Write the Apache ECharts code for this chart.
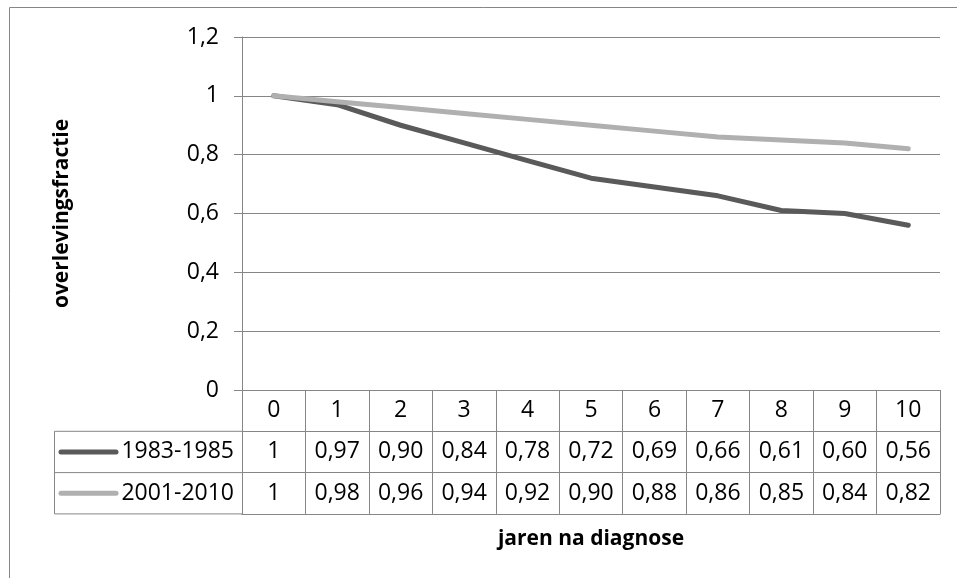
<!DOCTYPE html>
<html>
<head>
<meta charset="utf-8">
<script src="https://cdn.jsdelivr.net/npm/echarts@6/dist/echarts.min.js"></script>
<style>html,body{margin:0;padding:0;background:#fff;}#c{width:957px;height:578px;}</style>
</head>
<body>
<div id="c"></div>
<script>
// ---- data ----
var categories = ['0','1','2','3','4','5','6','7','8','9','10'];
var seriesNames = ['1983-1985', '2001-2010'];
var s1983 = [1, 0.97, 0.90, 0.84, 0.78, 0.72, 0.69, 0.66, 0.61, 0.60, 0.56];
var s2001 = [1, 0.98, 0.96, 0.94, 0.92, 0.90, 0.88, 0.86, 0.85, 0.84, 0.82];
var yTicks = { min: 0, max: 1.2, interval: 0.2 };
var yTitle = 'overlevingsfractie';
var xTitle = 'jaren na diagnose';

// ---- layout / style ----
var FONT = 'Open Sans';
var GRID = { left: 242, top: 37, right: 17, bottom: 188 };
var W = 957, H = 578;
var ROW = 41.3;
var GRAY = '#868686';
var COLORS = ['#5a5a5a', '#b0b0b0'];
var FS = 23;
var TFS = 21;

function fmtVal(v) { return v === 1 ? '1' : v.toFixed(2).replace('.', ','); }
function fmtY(v) { return String(Math.round(v * 10) / 10).replace('.', ','); }

var chart = echarts.init(document.getElementById('c'), null, { renderer: 'canvas' });
var axisBottomY = H - GRID.bottom;

function rowAxis(offset, rowData, extra) {
  var ax = {
    type: 'category', data: categories, gridIndex: 0, position: 'bottom',
    offset: offset, boundaryGap: true, silent: true,
    axisLine: { show: true, lineStyle: { color: GRAY, width: 1 } },
    axisTick: { show: false },
    axisLabel: {
      show: !!rowData, interval: 0, margin: ROW / 2, verticalAlign: 'middle',
      fontFamily: FONT, fontSize: FS, color: '#000',
      formatter: function (val, idx) { return rowData ? fmtVal(rowData[idx]) : ''; }
    },
    splitLine: { show: false }
  };
  if (extra) Object.assign(ax, extra);
  return ax;
}

var option = {
  animation: false,
  backgroundColor: '#fff',
  grid: { left: GRID.left, top: GRID.top, right: GRID.right, bottom: GRID.bottom, containLabel: false },
  xAxis: [
    {
      type: 'category', data: categories, boundaryGap: true, position: 'bottom', silent: true,
      axisLine: { show: true, lineStyle: { color: GRAY, width: 1 } },
      axisTick: { show: true, interval: 0, length: ROW * 3, lineStyle: { color: GRAY, width: 1 } },
      axisLabel: { interval: 0, margin: ROW / 2, verticalAlign: 'middle', fontFamily: FONT, fontSize: FS, color: '#000' },
      splitLine: { show: false }
    },
    rowAxis(ROW, s1983),
    rowAxis(ROW * 2, s2001),
    rowAxis(ROW * 3, null, {
      name: xTitle, nameLocation: 'middle', nameGap: 15,
      nameTextStyle: { fontFamily: FONT, fontSize: TFS, fontWeight: 'bold', color: '#000' }
    })
  ],
  yAxis: {
    type: 'value', min: yTicks.min, max: yTicks.max, interval: yTicks.interval,
    name: yTitle, nameLocation: 'middle', nameGap: 169, nameRotate: 90,
    nameTextStyle: { fontFamily: FONT, fontSize: TFS, fontWeight: 'bold', color: '#000' },
    axisLine: { show: true, lineStyle: { color: GRAY, width: 1 } },
    axisTick: { show: true, length: 8, lineStyle: { color: GRAY, width: 1 } },
    axisLabel: { margin: 23, fontFamily: FONT, fontSize: FS, color: '#000', formatter: fmtY },
    splitLine: { show: true, lineStyle: { color: GRAY, width: 1 } }
  },
  series: [
    { name: seriesNames[0], type: 'line', data: s1983, xAxisIndex: 0, showSymbol: false, symbol: 'none',
      lineStyle: { color: COLORS[0], width: 5, cap: 'round', join: 'round' }, z: 3 },
    { name: seriesNames[1], type: 'line', data: s2001, xAxisIndex: 0, showSymbol: false, symbol: 'none',
      lineStyle: { color: COLORS[1], width: 5, cap: 'round', join: 'round' }, z: 3 }
  ]
};
chart.setOption(option);

// Left legend cells of the data table, aligned to the axis rows
var tableLeft = 54;
var graphics = [
  { type: 'rect', silent: true, shape: { x: 9.5, y: 7.5, width: W, height: H },
    style: { fill: 'none', stroke: GRAY, lineWidth: 1 } },
  { type: 'rect', silent: true, shape: { x: tableLeft + 0.5, y: axisBottomY + ROW, width: GRID.left - tableLeft, height: ROW * 2 },
    style: { fill: 'none', stroke: GRAY, lineWidth: 1 } },
  { type: 'line', silent: true, shape: { x1: tableLeft, y1: axisBottomY + ROW * 2, x2: GRID.left, y2: axisBottomY + ROW * 2 },
    style: { stroke: GRAY, lineWidth: 1 } }
];
seriesNames.forEach(function (nm, i) {
  var cy = axisBottomY + ROW * (i + 1) + ROW / 2;
  graphics.push({ type: 'line', silent: true, shape: { x1: 61, y1: cy, x2: 116, y2: cy },
    style: { stroke: COLORS[i], lineWidth: 5, lineCap: 'round' } });
  graphics.push({ type: 'text', silent: true, x: GRID.left - 8, y: cy,
    style: { text: nm, align: 'right', verticalAlign: 'middle', font: FS + 'px "' + FONT + '"', fill: '#000' } });
});
chart.setOption({ graphic: graphics });
</script>
</body>
</html>
